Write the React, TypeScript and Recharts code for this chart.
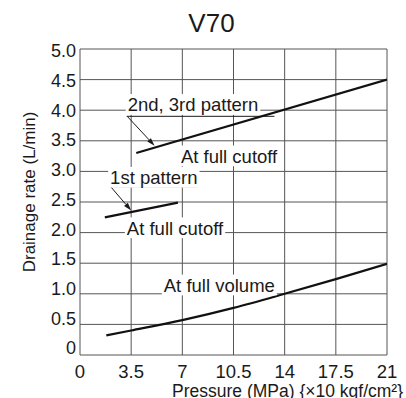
import { LineChart, Line, XAxis, YAxis, CartesianGrid, ReferenceLine, ReferenceDot, Label } from 'recharts'

const FONT = "'Liberation Sans', Arial, sans-serif"
const INK = '#1a1a1a'

// 축 눈금
const xTicks = [0, 3.5, 7, 10.5, 14, 17.5, 21]
const yTicks = [0, 0.5, 1, 1.5, 2, 2.5, 3, 3.5, 4, 4.5, 5]

// 배수량 곡선 (p: MPa, q: L/min)
const pattern23Cutoff = [
  { p: 3.85, q: 3.3 },
  { p: 21, q: 4.5 },
]
const pattern1Cutoff = [
  { p: 1.7, q: 2.25 },
  { p: 6.7, q: 2.49 },
]
const fullVolume = [
  { p: 1.8, q: 0.32 },
  { p: 3.5, q: 0.4 },
  { p: 7, q: 0.57 },
  { p: 10.5, q: 0.77 },
  { p: 14, q: 1.0 },
  { p: 17.5, q: 1.24 },
  { p: 21, q: 1.49 },
]

// 주석
const notes = [
  { text: '2nd, 3rd pattern', p: 7.73, q: 4.09 },
  { text: 'At full cutoff', p: 10.2, q: 3.25 },
  { text: '1st pattern', p: 5.05, q: 2.9 },
  { text: 'At full cutoff', p: 6.5, q: 2.075 },
  { text: 'At full volume', p: 9.53, q: 1.14 },
]
const underlines = [
  [{ x: 3.2, y: 3.9 }, { x: 13.3, y: 3.9 }],
  [{ x: 2.05, y: 2.75 }, { x: 8.05, y: 2.75 }],
]
const leaders = [
  [{ x: 3.23, y: 3.9 }, { x: 5.1, y: 3.42 }],
  [{ x: 2.1, y: 2.75 }, { x: 3.5, y: 2.36 }],
]

let ctx: CanvasRenderingContext2D | null = null
function textWidth(s: string, size: number) {
  if (!ctx) ctx = document.createElement('canvas').getContext('2d')
  if (!ctx) return s.length * size * 0.52
  ctx.font = `${size}px 'Liberation Sans'`
  return ctx.measureText(s).width
}

const NOTE_SIZE = 18.5

function noteShape(text: string) {
  return (props: any) => {
    const { cx, cy } = props
    const w = textWidth(text, NOTE_SIZE)
    const cap = NOTE_SIZE * 0.716
    const base = cy + cap / 2
    return (
      <g>
        <rect x={cx - w / 2 - 2} y={base - cap - 4} width={w + 4} height={cap + 7.5} fill="#fff" />
        <text x={cx} y={base} textAnchor="middle" fontSize={NOTE_SIZE} fill={INK} fontFamily={FONT}>
          {text}
        </text>
      </g>
    )
  }
}

const arrowLine = (props: any) => {
  const { x1, y1, x2, y2 } = props
  const a = Math.atan2(y2 - y1, x2 - x1)
  const len = 8
  const half = 2.5
  const bx = x2 - len * Math.cos(a)
  const by = y2 - len * Math.sin(a)
  const pts = `${x2},${y2} ${bx + half * Math.sin(a)},${by - half * Math.cos(a)} ${bx - half * Math.sin(a)},${by + half * Math.cos(a)}`
  return (
    <g>
      <line x1={x1} y1={y1} x2={bx} y2={by} stroke={INK} strokeWidth={1} />
      <polygon points={pts} fill={INK} />
    </g>
  )
}

// 원본의 y 눈금 글자는 아래로 갈수록 살짝 위로 붙어 있음
const YTick = (props: any) => {
  const { x, y, payload } = props
  const v = payload.value as number
  const shift = 2 - (5 - v) * 1.8
  return (
    <text x={x} y={y + shift} dy="0.355em" textAnchor="end" fontSize={18} fill={INK} fontFamily={FONT}>
      {v === 0 ? '0' : v.toFixed(1)}
    </text>
  )
}

export default function App() {
  return (
    <div style={{ position: 'absolute', left: 0, top: 0, width: 406, height: 398, background: '#fff', fontFamily: FONT }}>
      <div
        style={{
          position: 'absolute', left: 0, width: 423, top: 10, textAlign: 'center',
          fontSize: 26, lineHeight: '26px', color: INK,
        }}
      >
        V70
      </div>
      <LineChart width={406} height={398} margin={{ top: 49, right: 19, bottom: 0, left: 0 }}>
        <CartesianGrid stroke="#555" strokeWidth={1} />
        <XAxis
          type="number"
          dataKey="p"
          domain={[0, 21]}
          ticks={xTicks}
          axisLine={false}
          tickLine={false}
          tickSize={0}
          tickMargin={10}
          height={43}
          tick={{ fontSize: 18.5, fill: INK, fontFamily: FONT }}
          allowDataOverflow
        >
          <Label
            content={() => (
              <text x={172} y={397} fontSize={17.5} fill={INK} fontFamily={FONT}>
                Pressure (MPa) {'{×10 kgf/cm²}'}
              </text>
            )}
          />
        </XAxis>
        <YAxis
          type="number"
          domain={[0, 5]}
          ticks={yTicks}
          axisLine={false}
          tickLine={false}
          tickSize={0}
          tickMargin={4}
          width={80}
          tick={YTick}
          allowDataOverflow
        >
          <Label
            content={(props: any) => {
              const vb = props.viewBox
              const cy = vb.y + vb.height / 2 - 10
              return (
                <text
                  x={35}
                  y={cy}
                  transform={`rotate(-90, 35, ${cy})`}
                  textAnchor="middle"
                  fontSize={17}
                  fill={INK}
                  fontFamily={FONT}
                >
                  Drainage rate (L/min)
                </text>
              )
            }}
          />
        </YAxis>
        {notes.map((n, i) => (
          <ReferenceDot key={`n${i}`} x={n.p} y={n.q} r={0} shape={noteShape(n.text)} />
        ))}
        {underlines.map((s, i) => (
          <ReferenceLine key={`u${i}`} segment={s} stroke={INK} strokeWidth={1} />
        ))}
        {leaders.map((s, i) => (
          <ReferenceLine key={`l${i}`} segment={s} shape={arrowLine} />
        ))}
        <Line data={pattern23Cutoff} dataKey="q" stroke="#111" strokeWidth={2.2} dot={false} isAnimationActive={false} />
        <Line data={pattern1Cutoff} dataKey="q" stroke="#111" strokeWidth={2.2} dot={false} isAnimationActive={false} />
        <Line data={fullVolume} dataKey="q" type="monotone" stroke="#111" strokeWidth={2.2} dot={false} isAnimationActive={false} />
      </LineChart>
    </div>
  )
}
